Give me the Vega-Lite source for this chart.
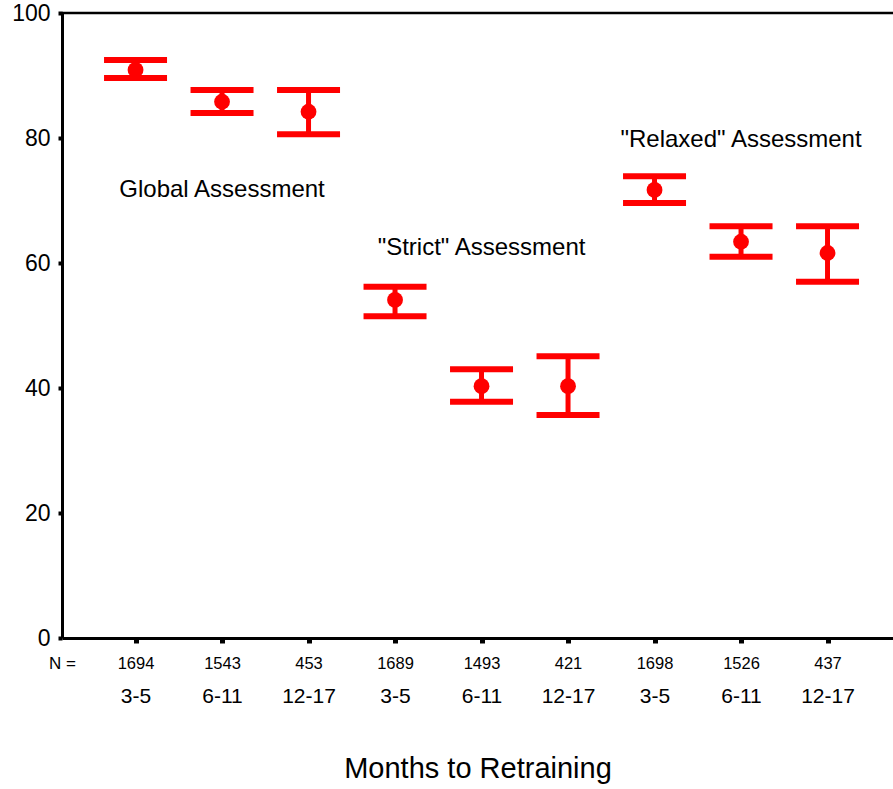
{
  "$schema": "https://vega.github.io/schema/vega-lite/v6.json",
  "width": 831,
  "height": 625,
  "autosize": {"type": "none"},
  "padding": {"left": 62, "top": 13, "right": 0, "bottom": 151},
  "background": "white",
  "config": {
    "view": {"stroke": null},
    "font": "Liberation Sans",
    "axis": {"labelFont": "Liberation Sans", "titleFont": "Liberation Sans", "labelColor": "black", "titleColor": "black", "grid": false}
  },
  "data": {
    "values": [
      {"group": "Global", "months": "3-5", "n": "1694", "mean": 90.9, "lo": 89.6, "hi": 92.5},
      {"group": "Global", "months": "6-11", "n": "1543", "mean": 85.8, "lo": 84.0, "hi": 87.7},
      {"group": "Global", "months": "12-17", "n": "453", "mean": 84.2, "lo": 80.6, "hi": 87.7},
      {"group": "Strict", "months": "3-5", "n": "1689", "mean": 54.1, "lo": 51.5, "hi": 56.2},
      {"group": "Strict", "months": "6-11", "n": "1493", "mean": 40.3, "lo": 37.8, "hi": 43.0},
      {"group": "Strict", "months": "12-17", "n": "421", "mean": 40.3, "lo": 35.7, "hi": 45.1},
      {"group": "Relaxed", "months": "3-5", "n": "1698", "mean": 71.7, "lo": 69.6, "hi": 73.9},
      {"group": "Relaxed", "months": "6-11", "n": "1526", "mean": 63.4, "lo": 61.0, "hi": 65.9},
      {"group": "Relaxed", "months": "12-17", "n": "437", "mean": 61.6, "lo": 57.0, "hi": 65.9}
    ]
  },
  "resolve": {"scale": {"x": "shared"}, "axis": {"x": "independent"}},
  "layer": [
    {
      "mark": {"type": "rule", "color": "#ff0000", "strokeWidth": 5},
      "encoding": {
        "x": {
          "field": "n", "type": "nominal",
          "scale": {"type": "point", "domain": ["1694", "1543", "453", "1689", "1493", "421", "1698", "1526", "437"], "padding": 0.8035, "align": 0.529},
          "axis": {
            "orient": "bottom", "domain": true, "domainColor": "black", "domainWidth": 3,
            "ticks": true, "tickColor": "black", "tickSize": 5, "tickWidth": 5,
            "labelAngle": 0, "labelFontSize": 16.5, "labelBaseline": "middle", "labelPadding": 20,
            "title": "N =", "titleFontSize": 17, "titleFontWeight": "normal",
            "titleX": 0, "titleY": 25, "titleAlign": "center", "titleBaseline": "middle", "titleAngle": 0
          }
        },
        "y": {
          "field": "lo", "type": "quantitative",
          "scale": {"domain": [0, 100], "nice": false, "zero": true},
          "axis": {
            "title": null, "values": [0, 20, 40, 60, 80, 100],
            "domain": true, "domainColor": "black", "domainWidth": 3,
            "ticks": true, "tickColor": "black", "tickSize": 4, "tickWidth": 4,
            "labelFontSize": 23, "labelPadding": 8, "labelBaseline": "middle"
          }
        },
        "y2": {"field": "hi"}
      }
    },
    {
      "data": {"values": [{"top": 100}]},
      "mark": {"type": "rule", "color": "black", "strokeWidth": 2.5},
      "encoding": {"y": {"datum": 100, "type": "quantitative"}}
    },
    {
      "mark": {"type": "tick", "color": "#ff0000", "size": 63, "thickness": 6, "opacity": 1},
      "encoding": {
        "x": {
          "field": "n", "type": "nominal",
          "axis": {
            "orient": "bottom", "domain": false, "ticks": false,
            "labelAngle": 0, "labelFontSize": 21, "labelBaseline": "middle", "labelPadding": 58,
            "labelExpr": "{'1694':'3-5','1543':'6-11','453':'12-17','1689':'3-5','1493':'6-11','421':'12-17','1698':'3-5','1526':'6-11','437':'12-17'}[datum.value]",
            "title": "Months to Retraining", "titleFontSize": 29, "titleFontWeight": "normal",
            "titleBaseline": "middle", "titleY": 130
          }
        },
        "y": {"field": "lo", "type": "quantitative"}
      }
    },
    {
      "mark": {"type": "tick", "color": "#ff0000", "size": 63, "thickness": 6, "opacity": 1},
      "encoding": {
        "x": {"field": "n", "type": "nominal", "axis": null},
        "y": {"field": "hi", "type": "quantitative"}
      }
    },
    {
      "mark": {"type": "circle", "color": "#ff0000", "size": 250, "opacity": 1},
      "encoding": {
        "x": {"field": "n", "type": "nominal", "axis": null},
        "y": {"field": "mean", "type": "quantitative"}
      }
    },
    {
      "data": {
        "values": [
          {"label": "Global Assessment", "n": "1543", "y": 71.7},
          {"label": "\"Strict\" Assessment", "n": "1493", "y": 62.4},
          {"label": "\"Relaxed\" Assessment", "n": "1526", "y": 79.7}
        ]
      },
      "mark": {"type": "text", "fontSize": 24, "color": "black", "baseline": "middle", "align": "center", "font": "Liberation Sans"},
      "encoding": {
        "x": {"field": "n", "type": "nominal", "axis": null},
        "y": {"field": "y", "type": "quantitative"},
        "text": {"field": "label"}
      }
    }
  ]
}
